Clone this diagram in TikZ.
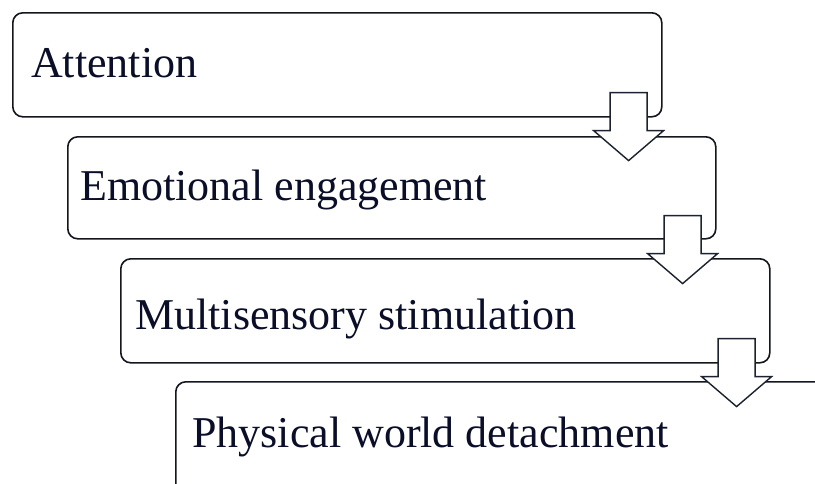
\documentclass[tikz,border=0pt]{standalone}
\usepackage{fontspec}
\setmainfont{Liberation Serif}
\usetikzlibrary{calc}
\definecolor{inkline}{RGB}{20,22,30}
\definecolor{inktext}{RGB}{10,14,40}
\definecolor{arrowline}{RGB}{28,34,48}
\tikzset{
  stepbox/.style={draw=inkline, line width=1.6pt, rounded corners=10pt, fill=white,
    anchor=north west, inner sep=0pt},
  steptext/.style={anchor=base west, inner sep=0pt, text=inktext,
    font=\fontsize{44}{50}\selectfont},
  blockarrow/.style={draw=arrowline, line width=1.4pt, fill=white, line join=miter},
}
% downward block arrow hanging from the given top-centre point
\newcommand\downblock[1]{%
  \draw[blockarrow] (#1) ++(-18.5,0) -- ++(37,0) -- ++(0,38) -- ++(16.5,0)
    -- ++(-35,30) -- ++(-35,-30) -- ++(16.5,0) -- cycle;}
\begin{document}
\begin{tikzpicture}[x=1pt,y=-1pt]
\useasboundingbox (0,0) rectangle (815,483);
\begin{scope}
\clip (0,0) rectangle (815,483);
\node[stepbox, minimum width=649pt, minimum height=104pt] (b1) at (12,12) {};
\node[stepbox, minimum width=648pt, minimum height=102pt] (b2) at (67,136) {};
\node[stepbox, minimum width=649pt, minimum height=104pt] (b3) at (120,258) {};
\node[stepbox, minimum width=680pt, minimum height=130pt] (b4) at (175,381) {};

\node[steptext] (t1) at (31,77) {Attention};
\node[steptext] (t2) at (80,200) {Emotional engagement};
\node[steptext] (t3) at (135,329) {Multisensory stimulation};
\node[steptext] (t4) at (192,447) {Physical world detachment};

\coordinate (a1) at ($(b1.south east)+(-34,-25)$);
\coordinate (a2) at ($(b2.south east)+(-34,-24)$);
\coordinate (a3) at ($(b3.south east)+(-34,-25)$);
\downblock{a1}
\downblock{a2}
\downblock{a3}
\end{scope}
\end{tikzpicture}
\end{document}
